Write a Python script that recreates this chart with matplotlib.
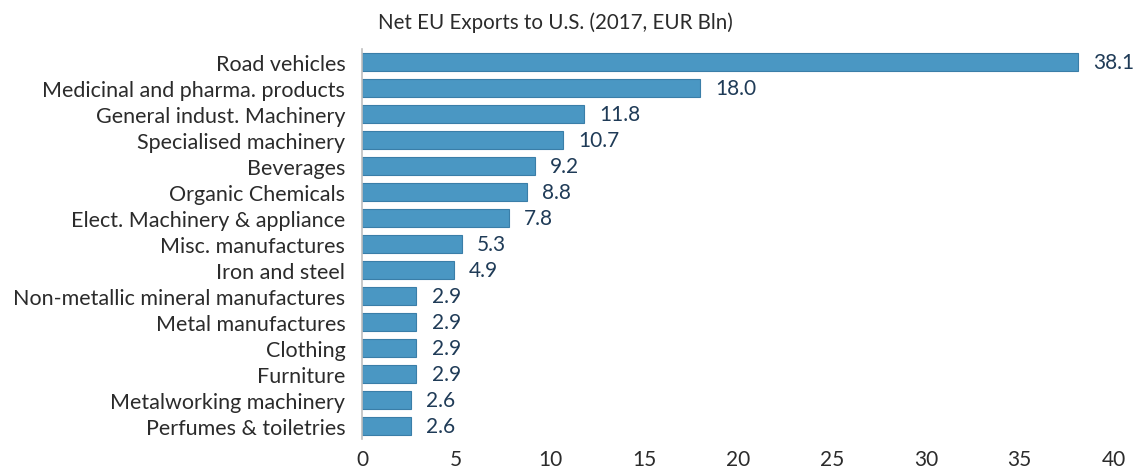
import matplotlib
matplotlib.use("Agg")
import matplotlib.pyplot as plt

categories = [
    "Road vehicles",
    "Medicinal and pharma. products",
    "General indust. Machinery",
    "Specialised machinery",
    "Beverages",
    "Organic Chemicals",
    "Elect. Machinery & appliance",
    "Misc. manufactures",
    "Iron and steel",
    "Non-metallic mineral manufactures",
    "Metal manufactures",
    "Clothing",
    "Furniture",
    "Metalworking machinery",
    "Perfumes & toiletries",
]
values = [38.1, 18.0, 11.8, 10.7, 9.2, 8.8, 7.8, 5.3, 4.9, 2.9, 2.9, 2.9, 2.9, 2.6, 2.6]
xticks = [0, 5, 10, 15, 20, 25, 30, 35, 40]

plt.rcParams["font.family"] = ["Lato", "DejaVu Sans"]

fig = plt.figure(figsize=(11.33, 4.77), dpi=100)
ax = fig.add_axes([0.3195, 0.078, 0.6635, 0.817])

y = list(range(len(categories)))
ax.barh(y, values, height=0.68, color="#4a97c3", edgecolor="#3a7ea8", linewidth=0.8)

# value labels just right of each bar
for yi, v in zip(y, values):
    ax.text(v + 0.8, yi, f"{v:.1f}", va="center", ha="left",
            fontsize=15, color="#1f3b57")

ax.set_yticks(y)
ax.set_yticklabels(categories, fontsize=15.5, color="#2b2b2b")
ax.set_ylim(len(categories) - 0.5, -0.5)
ax.set_xlim(0, 40)
ax.set_xticks(xticks)
ax.set_xticklabels([str(t) for t in xticks], fontsize=15, color="#2b2b2b")
ax.tick_params(axis="both", length=0)
ax.tick_params(axis="x", pad=7)
ax.tick_params(axis="y", pad=12)

for side in ["top", "right", "bottom"]:
    ax.spines[side].set_visible(False)
ax.spines["left"].set_color("#bfbfbf")
ax.spines["left"].set_linewidth(1.2)

fig.text(0.49, 0.953, "Net EU Exports to U.S. (2017, EUR Bln)", ha="center", va="center",
         fontsize=14.8, color="#2b2b2b")

fig.savefig("out.png", dpi=100)
